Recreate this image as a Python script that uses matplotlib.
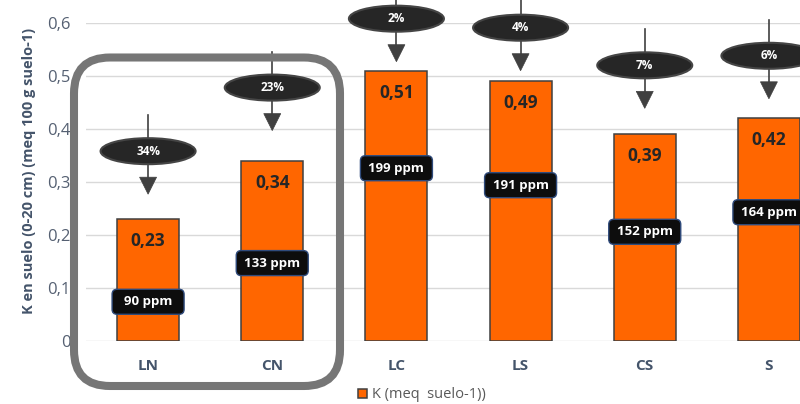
import matplotlib
matplotlib.use('Agg')
import matplotlib.pyplot as plt
import matplotlib.transforms as mtransforms
from matplotlib.patches import Ellipse, Polygon, FancyBboxPatch
from matplotlib.lines import Line2D

# ---- data ----
categories = ['LN', 'CN', 'LC', 'LS', 'CS', 'S']
k_values = [0.23, 0.34, 0.51, 0.49, 0.39, 0.42]
ppm_labels = ['90 ppm', '133 ppm', '199 ppm', '191 ppm', '152 ppm', '164 ppm']
pct_labels = ['34%', '23%', '2%', '4%', '7%', '6%']
y_ticks = [0, 0.1, 0.2, 0.3, 0.4, 0.5, 0.6]
series_name = 'K (meq  suelo-1))'
y_title = 'K en suelo (0-20 cm) (meq 100 g suelo-1)'

# ---- layout (label anchor heights, in axis units) ----
ppm_label_y = [0.074, 0.147, 0.326, 0.294, 0.206, 0.243]
arrow_tip_y = [0.277, 0.397, 0.527, 0.510, 0.439, 0.457]

plt.rcParams['font.family'] = ['Open Sans', 'DejaVu Sans']

DPI = 100
W, H = 800, 404
fig = plt.figure(figsize=(W / DPI, H / DPI), dpi=DPI)
ax = fig.add_axes([86 / W, 63 / H, 745 / W, 318 / H])

xs = list(range(len(categories)))
bars = ax.bar(xs, k_values, width=0.5, color='#FF6600', edgecolor='#404040',
              linewidth=1.1, zorder=2, label=series_name)

ax.set_xlim(-0.5, len(categories) - 0.5)
ax.set_ylim(0, 0.6)
ax.set_yticks(y_ticks)
ax.set_yticklabels(['0' if v == 0 else f'{v:.1f}'.replace('.', ',') for v in y_ticks])
ax.set_xticks(xs)
ax.set_xticklabels(categories)
for s in ax.spines.values():
    s.set_visible(False)
ax.grid(axis='y', color='#d9d9d9', linewidth=1.0, zorder=0)
ax.set_axisbelow(True)
ax.tick_params(axis='y', length=0, pad=11, labelsize=12, labelcolor='#556072')
ax.tick_params(axis='x', length=0, pad=13, labelsize=11, labelcolor='#44546A')
for t in ax.get_xticklabels():
    t.set_fontweight('bold')

# pixel-based transform
pxT = mtransforms.Affine2D().scale(1 / DPI) + fig.dpi_scale_trans

def anchored(xd, yd):
    return pxT + mtransforms.ScaledTranslation(xd, yd, ax.transData)

# value labels inside bars
for i, v in enumerate(k_values):
    ax.annotate(f'{v:.2f}'.replace('.', ','), (i, v), xytext=(0, -22),
                textcoords='offset pixels', ha='center', va='center',
                fontsize=12.5, fontweight='bold', color='#262626', zorder=4)

# ppm labels
for i, lab in enumerate(ppm_labels):
    T = anchored(i, ppm_label_y[i])
    box = FancyBboxPatch((-36, -12.5), 72, 25, boxstyle='round,pad=0,rounding_size=5',
                         transform=T, facecolor='#0d0d0d', edgecolor='#2f4b7c',
                         linewidth=1.0, zorder=5)
    box.set_clip_on(False)
    ax.add_patch(box)
    ax.text(0, 0, lab, transform=T, ha='center', va='center', color='white',
            fontsize=9.5, fontweight='bold', zorder=6, clip_on=False)

# percentage ellipses with arrows
for i, lab in enumerate(pct_labels):
    T = anchored(i, arrow_tip_y[i])
    ln = Line2D([0, 0], [8, 79], transform=T, color='#404040', linewidth=1.2, zorder=5)
    ln.set_clip_on(False)
    ax.add_line(ln)
    head = Polygon([(-8.5, 17), (8.5, 17), (0, 0)], closed=True, transform=T,
                   facecolor='#404040', edgecolor='#404040', linewidth=0.5, zorder=5)
    head.set_clip_on(False)
    ax.add_patch(head)
    el = Ellipse((0, 43), 95, 26, transform=T, facecolor='#262626',
                 edgecolor='#454545', linewidth=1.5, zorder=6)
    el.set_clip_on(False)
    ax.add_patch(el)
    ax.text(0, 43, lab, transform=T, ha='center', va='center', color='white',
            fontsize=8.5, fontweight='bold', zorder=7, clip_on=False)

# rounded highlight frame around LN and CN
frame = FancyBboxPatch((74, 18), 266, 328.5, boxstyle='round,pad=0,rounding_size=36',
                       transform=pxT, fill=False, edgecolor='#767676', linewidth=5.8,
                       zorder=3)
fig.add_artist(frame)

# y axis title
fig.text(29 / W, (H - 171) / H, y_title, rotation=90, ha='center', va='center',
         fontsize=10.5, fontweight='bold', color='#44546A')

# legend
ax.legend(handles=[bars], loc='center', bbox_to_anchor=(422 / W, 9 / H),
          bbox_transform=fig.transFigure, frameon=False, fontsize=10.5,
          labelcolor='#595959', handlelength=0.6, handleheight=0.6,
          handletextpad=0.4, borderpad=0)

fig.savefig('out.png', dpi=DPI)
